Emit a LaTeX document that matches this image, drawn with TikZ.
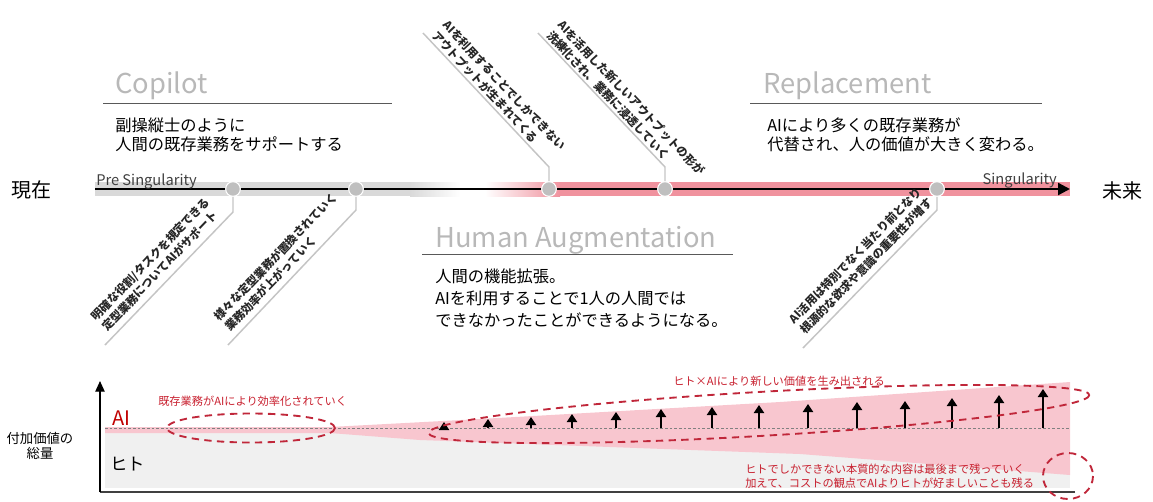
\documentclass[tikz,border=0pt]{standalone}
\usepackage{fontspec}
\setmainfont{Noto Sans CJK JP}
\usetikzlibrary{arrows.meta}
\definecolor{tlpink}{HTML}{F0929E}
\definecolor{chpink}{HTML}{F8C6CF}
\definecolor{tlgray}{HTML}{D9D9D9}
\definecolor{chgray}{HTML}{F0F0F0}
\definecolor{dred}{HTML}{C0273A}
\definecolor{rtext}{HTML}{C8202F}
\definecolor{ttl}{HTML}{B8B8B8}
\definecolor{dotc}{HTML}{BFBFBF}
\definecolor{clinec}{HTML}{C4C4C4}
\definecolor{rulec}{HTML}{595959}
\definecolor{airec}{HTML}{C00000}
\definecolor{axisc}{HTML}{404040}
\definecolor{callc}{HTML}{262626}
\begin{document}
\begin{tikzpicture}[x=0.75pt,y=-0.75pt,
  ttlstyle/.style={font=\fontsize{20.5}{24}\selectfont, text=ttl, anchor=base west, inner sep=0},
  bodystyle/.style={font=\fontsize{12.2}{14.3}\selectfont, anchor=base west, inner sep=0},
  callout/.style={font=\fontsize{8.6}{11.2}\selectfont\bfseries, text=callc, align=left, inner sep=0},
  cline/.style={draw=clinec, line width=1.1pt},
  dot/.style={circle, fill=dotc, draw=white, line width=0.8pt, minimum size=11pt, inner sep=0},
  redell/.style={draw=dred, line width=1.4pt, dash pattern=on 5.5pt off 4pt},
  upar/.style={line width=1.5pt, -{Triangle[width=7.5pt,length=6pt]}},
  rednote/.style={text=rtext, font=\fontsize{8.4}{10.5}\selectfont, inner sep=0, anchor=base west},
  rulestyle/.style={draw=rulec, line width=0.75pt}]
\useasboundingbox (0,0) rectangle (1153,501);

% ---------- titles ----------
\node[ttlstyle] (tcop) at (115,93) {Copilot};
\draw[rulestyle] (103,103) -- (392,103);
\node[bodystyle] (bc1) at (115,131) {副操縦士のように};
\node[bodystyle] (bc2) at (115,150) {人間の既存業務をサポートする};

\node[ttlstyle] (trep) at (763,93) {Replacement};
\draw[rulestyle] (750,103) -- (1042,103);
\node[bodystyle] (br1) at (767,131) {AIにより多くの既存業務が};
\node[bodystyle] (br2) at (767,150) {代替され、人の価値が大きく変わる。};

\node[ttlstyle] (thum) at (435,247) {Human Augmentation};
\draw[rulestyle] (422,254) -- (733,254);
\node[bodystyle] (bh1) at (435,282) {人間の機能拡張。};
\node[bodystyle] (bh2) at (435,304) {AIを利用することで1人の人間では};
\node[bodystyle] (bh3) at (435,326) {できなかったことができるようになる。};

% ---------- timeline ----------
\fill[tlgray] (95,182) rectangle (410,196);
\shade[left color=tlgray, right color=white] (410,182) rectangle (460,196);
\fill[white] (460,182) rectangle (485,196);
\shade[left color=white, right color=tlpink] (485,182) rectangle (560,196);
\fill[tlpink] (560,182) rectangle (1070,196);
\coordinate (tls) at (95,189);
\coordinate (tle) at (1070,189);
\draw[line width=1.8pt, -{Triangle[width=9pt,length=9pt]}] (tls) -- (tle);

\node[font=\fontsize{11}{13}\selectfont, anchor=base west, inner sep=0, text=axisc] (pre) at (96,185) {Pre Singularity};
\node[font=\fontsize{11}{13}\selectfont, anchor=base east, inner sep=0, text=axisc] (sing) at (1057,184) {Singularity};
\node[font=\fontsize{15}{18}\selectfont, inner sep=0] (now) at (32,190) {現在};
\node[font=\fontsize{15}{18}\selectfont, inner sep=0] (fut) at (1122,191) {未来};

% ---------- callouts ----------
\coordinate (l1a) at (233,212); \coordinate (l1b) at (105,345);
\coordinate (l2a) at (356,210); \coordinate (l2b) at (228,345);
\coordinate (u1a) at (549,167); \coordinate (u1b) at (423,33);
\coordinate (u2a) at (665,167); \coordinate (u2b) at (538,33);
\coordinate (l3a) at (937,210); \coordinate (l3b) at (803,348);

\node[dot] (d1) at (233,189) {};
\node[dot] (d2) at (356,189) {};
\node[dot] (d3) at (549,189) {};
\node[dot] (d4) at (665,189) {};
\node[dot] (d5) at (937,189) {};

\draw[cline] (d1) -- (l1a) -- (l1b);
\draw[cline] (d2) -- (l2a) -- (l2b);
\draw[cline] (d3) -- (u1a) -- (u1b);
\draw[cline] (d4) -- (u2a) -- (u2b);
\draw[cline] (d5) -- (l3a) -- (l3b);

\node[callout, rotate=-46.7, anchor=south west] (cu1) at (430,37) {AIを利用することでしかできない\\アウトプットが生まれてくる};
\node[callout, rotate=-46.5, anchor=south west] (cu2) at (545,37) {AIを活用した新しいアウトプットの形が\\洗練化され、業務に浸透していく};
\node[callout, rotate=46.1, anchor=south west] (cl1) at (108,333) {明確な役割/タスクを規定できる\\定型業務についてAIがサポート};
\node[callout, rotate=46.1, anchor=south west] (cl2) at (231,333) {様々な定型業務が置換されていく\\業務効率が上がっていく};
\node[callout, rotate=45.8, anchor=south west] (cl3) at (806,336) {AI活用は特別でなく当たり前となり\\根源的な欲求や意識の重要性が増す};

% ---------- chart ----------
\fill[chgray] (105,430) rectangle (1070,488);
\fill[chpink] (105,427) -- (330,427) -- (480,419) -- (780,402) -- (1070,382)
  -- (1070,475) -- (800,454) -- (420,440) -- (330,433) -- (105,433) -- cycle;
\draw[gray, line width=0.5pt, dash pattern=on 2pt off 1.5pt] (105,428) -- (1070,428);

\coordinate (org) at (100,492);
\coordinate (ytop) at (100,381);
\coordinate (xend) at (1075,492);
\draw[axisc, line width=1pt] (xend) -- (org);
\draw[black, line width=1pt, -{Triangle[width=7pt,length=8pt]}] (org) -- (ytop);

\foreach \x/\t in {444/422,488/419,531/417,572/414,616/412,661/409,712/407,759/405,808/404,857/402,905/401,952/398,999/395,1043/389}
  \draw[upar] (\x,428) -- (\x,\t);

\node[text=airec, font=\fontsize{15}{18}\selectfont, anchor=base west, inner sep=0] (ai) at (112,425) {AI};
\node[font=\fontsize{13}{16}\selectfont, anchor=base west, inner sep=0] (hito) at (110,470) {ヒト};
\node[font=\fontsize{10}{12}\selectfont, inner sep=0, anchor=base] (fv1) at (40,443) {付加価値の};
\node[font=\fontsize{10}{12}\selectfont, inner sep=0, anchor=base] (fv2) at (40,458) {総量};

\node[rednote] (n1) at (158,405) {既存業務がAIにより効率化されていく};
\node[rednote] (n2) at (673,385) {ヒト×AIにより新しい価値を生み出される};
\node[rednote] (n3) at (745,473) {ヒトでしかできない本質的な内容は最後まで残っていく};
\node[rednote] (n4) at (745,487) {加えて、コストの観点でAIよりヒトが好ましいことも残る};

\draw[redell] (251,428) ellipse [x radius=84, y radius=14.5];
\draw[redell, rotate around={3.3:(759,414)}] (759,414) ellipse [x radius=331, y radius=22];
\draw[redell] (1068,476) ellipse [x radius=25, y radius=23];
\end{tikzpicture}
\end{document}
